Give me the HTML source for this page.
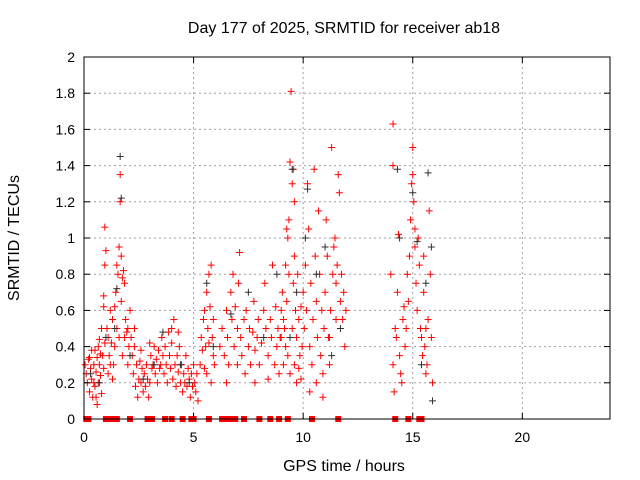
<!DOCTYPE html>
<html><head><meta charset="utf-8"><style>
body{margin:0;background:#fff}
svg{display:block;font-family:"Liberation Sans",sans-serif}
</style></head><body>
<svg id="chart" width="640" height="480" viewBox="0 0 640 480">
<rect width="640" height="480" fill="#fff"/>
<g id="grid"></g>
<g id="marks"></g>
<rect x="84" y="57" width="526" height="362" fill="none" stroke="#000" stroke-width="1"/>
<g id="ticks"></g>
<text x="344" y="33" font-size="16" text-anchor="middle">Day 177 of 2025, SRMTID for receiver ab18</text>
<text x="344" y="471" font-size="16" text-anchor="middle">GPS time / hours</text>
<text transform="translate(19,238) rotate(-90)" font-size="16" text-anchor="middle">SRMTID / TECUs</text>
</svg>
<script>
const xTicks=[0,5,10,15,20];
const yTicks=[0,0.2,0.4,0.6,0.8,1,1.2,1.4,1.6,1.8,2];
const yTickLabels=["0","0.2","0.4","0.6","0.8","1","1.2","1.4","1.6","1.8","2"];
const redSeries="0.05 .3,0.1 .25,0.15 .2,0.2 .33,0.25 .15,0.3 .28,0.35 .22,0.4 .12,0.45 .3,0.5 .38,0.5 .18,0.55 .26,0.6 .08,0.6 .34,0.65 .2,0.7 .3,0.7 .44,0.75 .24,0.8 .5,0.8 .14,0.85 .35,0.9 .28,0.95 .42,0.9 .62,0.35 .38,0.25 .34,0.45 .2,0.55 .12,0.65 .4,0.75 .36,0.9 .68,0.95 .85,1.0 .93,0.95 1.06,1.05 .5,1.1 .45,1.15 .35,1.2 .6,1.25 .42,1.3 .55,1.35 .3,1.4 .4,1.45 .7,1.5 .85,1.55 .8,1.6 .95,1.65 1.2,1.65 1.35,1.7 .9,1.75 .78,1.8 .82,1.7 .65,1.85 .75,1.9 .55,1.95 .48,2.0 .5,2.05 .4,2.1 .6,1.6 .45,1.5 .5,1.4 .62,1.2 .3,1.3 .22,1.1 .25,1.75 .35,1.85 .45,2.0 .3,2.2 .35,2.25 .25,2.3 .4,2.35 .18,2.4 .3,2.45 .12,2.5 .22,2.55 .32,2.6 .2,2.65 .28,2.7 .15,2.75 .25,2.8 .18,2.85 .3,2.9 .22,2.95 .12,3.0 .2,3.05 .35,3.1 .28,3.15 .3,3.2 .4,3.25 .25,3.3 .33,3.35 .2,3.4 .38,3.45 .28,2.3 .5,2.15 .45,3.0 .42,2.6 .38,3.5 .3,3.55 .45,3.6 .35,3.65 .25,3.7 .4,3.75 .3,3.8 .2,3.85 .48,3.9 .35,3.95 .28,4.0 .42,4.05 .22,4.1 .55,4.15 .3,4.2 .18,4.25 .35,4.3 .26,4.35 .4,4.4 .2,4.45 .3,4.5 .15,4.55 .25,4.6 .2,4.65 .35,4.7 .18,4.75 .28,4.8 .22,4.85 .12,4.9 .25,4.95 .18,5.0 .3,5.05 .2,5.1 .15,5.15 .25,5.2 .1,4.3 .48,4.0 .5,5.3 .3,5.35 .45,5.4 .38,5.45 .55,5.5 .6,5.55 .4,5.6 .7,5.65 .5,5.7 .8,5.75 .62,5.8 .85,5.85 .45,5.9 .35,5.95 .3,5.6 .25,5.8 .2,5.5 .28,5.7 .42,5.9 .55,6.2 .4,6.3 .5,6.4 .35,6.5 .6,6.55 .45,6.6 .3,6.7 .7,6.75 .55,6.8 .8,6.85 .4,6.9 .62,7.0 .5,7.05 .75,7.1 .92,7.15 .45,7.2 .35,7.3 .55,7.35 .25,7.4 .6,7.5 .4,7.55 .5,7.6 .3,7.7 .48,7.75 .65,7.8 .38,7.9 .45,7.95 .55,8.0 .3,8.1 .42,8.2 .6,8.25 .75,8.3 .5,8.4 .35,8.5 .55,8.55 .45,8.6 .85,8.7 .3,8.75 .62,8.8 .4,8.85 .5,8.9 .25,8.95 .45,6.5 .2,7.0 .3,7.8 .2,8.4 .22,9.0 .6,9.05 .7,9.1 .55,9.15 .5,9.2 .85,9.25 .65,9.3 1.0,9.35 1.1,9.4 1.42,9.45 1.81,9.5 1.3,9.55 .75,9.6 .9,9.65 .6,9.7 .45,9.75 .8,9.8 .55,9.85 .35,9.9 .62,9.95 .4,9.1 .3,9.2 .4,9.3 .35,9.4 .25,9.5 .5,9.6 .3,9.7 .2,9.8 .28,9.9 .22,9.0 .45,9.25 1.05,9.35 .8,9.55 1.38,9.6 1.2,10.0 .7,10.05 .5,10.1 .85,10.15 .6,10.2 1.3,10.25 1.05,10.3 .4,10.35 .75,10.4 .3,10.45 .55,10.5 1.38,10.55 .9,10.6 .65,10.65 .45,10.7 1.15,10.75 .8,10.8 .35,10.85 .6,10.9 .25,10.95 .5,11.0 .7,11.05 1.1,11.1 .9,11.15 .45,11.2 .3,11.25 .6,11.3 1.5,11.35 .8,11.4 .95,11.45 1.0,11.5 .75,11.55 .85,11.6 1.35,11.65 1.25,11.7 .65,11.75 .8,11.8 .55,11.85 .7,11.9 .4,11.95 .6,10.3 .15,10.6 .2,10.9 .12,11.2 .45,11.5 .55,14.1 .3,14.15 .15,14.2 .5,14.25 .45,14.3 .7,14.35 1.02,14.4 .35,14.45 .25,14.5 .2,14.55 .55,14.6 .62,14.65 .4,14.7 .5,14.75 .8,14.8 .65,14.85 .9,14.9 1.1,14.95 1.3,15.0 1.5,15.05 1.2,15.1 .95,15.15 .75,15.2 .6,15.25 1.0,15.3 .85,15.35 .5,15.4 .45,15.45 .35,15.5 .7,15.55 .4,15.6 .25,15.65 .3,15.7 .55,15.75 1.15,15.8 .8,15.85 .45,15.9 .2,14.1 1.63,14.1 1.4,14.0 .8,15.0 1.35,15.1 1.05,15.5 .9,15.6 .5";
const blackSeries="0.3 .25,0.7 .2,1.0 .45,1.4 .5,1.65 1.45,1.7 1.22,1.5 .72,2.1 .35,2.7 .22,3.2 .3,3.6 .48,4.4 .3,4.8 .2,5.6 .75,5.9 .4,6.7 .58,7.5 .7,8.2 .45,8.8 .8,9.5 1.38,9.7 .7,9.4 .45,10.1 1.0,10.2 1.27,10.6 .8,11.0 .95,11.3 .35,11.7 .5,14.3 1.38,14.4 1.0,15.0 1.25,15.2 .98,15.6 .75,15.7 1.36,15.85 .95,15.9 .1,15.4 .3";
const zeroTimes=[0.1,0.2,1.0,1.1,1.3,1.5,2.1,2.9,3.1,3.7,4.0,4.5,4.9,5.0,5.7,6.3,6.4,6.5,6.6,6.7,6.8,6.9,7.3,8.0,8.5,8.9,9.3,10.4,11.6,14.2,14.8,15.3,15.4];

const X0=84,X1=610,Y0=419,Y1=57;
const sx=t=>X0+t/24*(X1-X0);
const sy=v=>Y0-v/2*(Y0-Y1);
const NS="http://www.w3.org/2000/svg";
const grid=document.getElementById('grid'),ticks=document.getElementById('ticks'),marks=document.getElementById('marks');
function mk(tag,attrs,parent){const e=document.createElementNS(NS,tag);for(const k in attrs)e.setAttribute(k,attrs[k]);parent.appendChild(e);return e;}
xTicks.forEach(t=>{
  const x=sx(t);
  if(t>0){const g=mk('line',{x1:x,x2:x,y1:Y0,y2:Y1,stroke:'#a0a0a0','stroke-dasharray':'2,3'},grid);
  
  }
  mk('line',{x1:x,x2:x,y1:Y0,y2:Y0-6,stroke:'#000'},ticks);
  mk('line',{x1:x,x2:x,y1:Y1,y2:Y1+6,stroke:'#000'},ticks);
  const l=mk('text',{x:x,y:Y0+23,'font-size':14,'text-anchor':'middle'},ticks);
  l.textContent=t;
  
  
});
yTicks.forEach((v,i)=>{
  const y=sy(v);
  if(v>0&&v<2){const g=mk('line',{x1:X0,x2:X1,y1:y,y2:y,stroke:'#a0a0a0','stroke-dasharray':'2,3'},grid);
  
  }
  mk('line',{x1:X0,x2:X0+6,y1:y,y2:y,stroke:'#000'},ticks);
  mk('line',{x1:X1,x2:X1-6,y1:y,y2:y,stroke:'#000'},ticks);
  const l=mk('text',{x:X0-9,y:y+5,'font-size':14,'text-anchor':'end'},ticks);
  l.textContent=yTickLabels[i];
  
  
});
function plot(str,color,name){
  let d='';
  str.split(',').forEach(p=>{const [t,v]=p.trim().split(' ').map(Number);const x=sx(t),y=sy(v);
    d+=`M${x-3.5},${y}h7M${x},${y-3.5}v7`;});
  const pth=mk('path',{d:d,stroke:color,'stroke-width':1,fill:'none'},marks);
  
  
}
plot(redSeries,'#ff0000','red-series-points');
plot(blackSeries,'#303030','black-series-points');
zeroTimes.forEach(t=>{
  const r=mk('rect',{x:sx(t)-3,y:Y0-3,width:6,height:6,fill:'#ff0000'},marks);
  
  
});
</script>
</body></html>
